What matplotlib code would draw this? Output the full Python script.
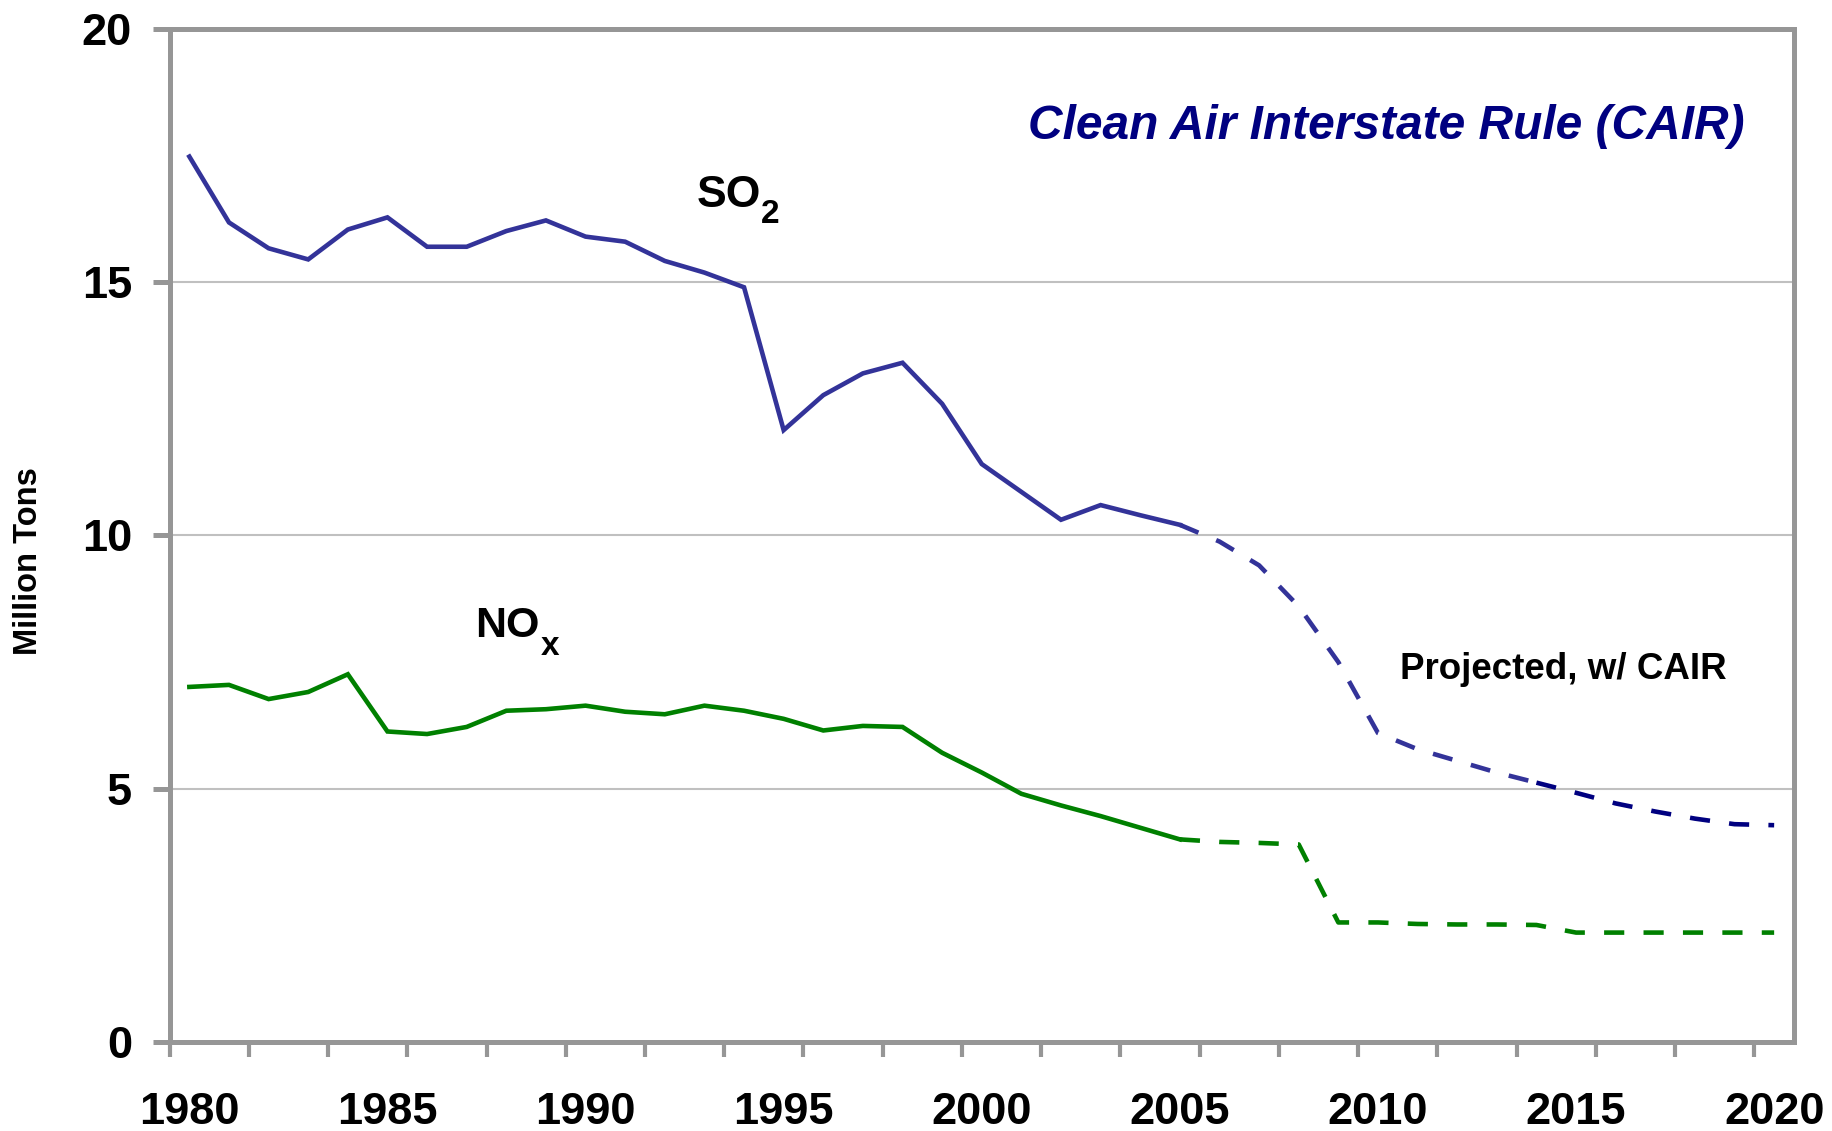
import matplotlib
matplotlib.use("Agg")
import matplotlib.pyplot as plt
from matplotlib.ticker import FixedLocator, NullFormatter, FixedFormatter

plt.rcParams['font.family'] = ['Liberation Sans', 'DejaVu Sans']

# ---------------- data ----------------
years_hist = list(range(1980, 2006))
so2_hist = [17.48, 16.18, 15.67, 15.45, 16.04, 16.28, 15.70, 15.70, 16.01, 16.22,
            15.90, 15.80, 15.42, 15.19, 14.90, 12.08, 12.77, 13.20, 13.41, 12.60,
            11.41, 10.86, 10.31, 10.60, 10.40, 10.21]
nox_hist = [7.01, 7.05, 6.77, 6.91, 7.26, 6.13, 6.08, 6.22, 6.54, 6.57,
            6.64, 6.52, 6.47, 6.64, 6.54, 6.38, 6.15, 6.24, 6.22, 5.71,
            5.32, 4.90, 4.67, 4.46, 4.23, 4.00]

years_proj = list(range(2005, 2021))
so2_proj = [10.21, 9.88, 9.41, 8.60, 7.50, 6.10, 5.78, 5.55, 5.32, 5.12,
            4.92, 4.71, 4.55, 4.41, 4.30, 4.28]
nox_proj = [4.00, 3.95, 3.93, 3.90, 2.36, 2.36, 2.33, 2.32, 2.32, 2.31,
            2.16, 2.16, 2.16, 2.16, 2.16, 2.16]

label_years = [1980, 1985, 1990, 1995, 2000, 2005, 2010, 2015, 2020]
tick_years = list(range(1980, 2021, 2))
y_ticks = [0, 5, 10, 15, 20]

# ---------------- style ----------------
so2_color = '#333399'
so2_dark = '#000080'
nox_color = '#008000'
axis_gray = '#969696'
grid_gray = '#c0c0c0'
LW = 3.3

fig = plt.figure(figsize=(18.33, 11.31), dpi=100)
ax = fig.add_axes([0.0925, 0.0787, 0.8862, 0.8957])

# category-style x: each year occupies [year, year+1], point at centre
xh = [y + 0.5 for y in years_hist]
xp = [y + 0.5 for y in years_proj]
split = years_proj.index(2014)

ax.plot(xh, so2_hist, color=so2_color, lw=LW, solid_joinstyle='miter', zorder=3)
ax.plot(xh, nox_hist, color=nox_color, lw=LW, solid_joinstyle='miter', zorder=3)
dash = (0, (4.4, 4.2))
ax.plot(xp[:split + 1], so2_proj[:split + 1], color=so2_color, lw=LW,
        linestyle=dash, dash_capstyle='butt', zorder=3)
ax.plot(xp[split:], so2_proj[split:], color=so2_dark, lw=LW,
        linestyle=dash, dash_capstyle='butt', zorder=3)
ax.plot(xp, nox_proj, color=nox_color, lw=LW, linestyle=dash,
        dash_capstyle='butt', zorder=3)

ax.set_xlim(1980, 2021)
ax.set_ylim(0, 20)

# grid
ax.set_yticks(y_ticks)
ax.yaxis.grid(True, color=grid_gray, lw=1.5, zorder=0)
ax.set_axisbelow(True)

for s in ax.spines.values():
    s.set_color(axis_gray)
    s.set_linewidth(3.6)

ax.xaxis.set_major_locator(FixedLocator(tick_years))
ax.xaxis.set_major_formatter(NullFormatter())
ax.xaxis.set_minor_locator(FixedLocator([y + 0.5 for y in label_years]))
ax.xaxis.set_minor_formatter(FixedFormatter([str(y) for y in label_years]))
ax.tick_params(axis='x', which='major', direction='out', length=11, width=3,
               color=axis_gray)
ax.tick_params(axis='x', which='minor', length=0, pad=36, labelsize=32.5)
ax.tick_params(axis='y', which='major', direction='out', length=12, width=3.6,
               color=axis_gray, pad=15, labelsize=32.5)
for lab in ax.get_xticklabels(minor=True) + ax.get_yticklabels():
    lab.set_fontweight('bold')

# texts
ax.text(2019.76, 17.83, 'Clean Air Interstate Rule (CAIR)', ha='right',
        va='baseline', fontsize=34.5, fontweight='bold', fontstyle='italic',
        color='#000080')

# SO2 label with subscript
ax.text(1993.30, 16.49, 'SO', ha='left', va='baseline', fontsize=32,
        fontweight='bold', color='black')
ax.annotate('2', xy=(1993.30, 16.49), xytext=(46.5, -11.5),
            textcoords='offset points', ha='left', va='baseline',
            fontsize=24, fontweight='bold', color='black')
# NOx label with subscript
ax.text(1987.71, 8.0, 'NO', ha='left', va='baseline', fontsize=31,
        fontweight='bold', color='black')
ax.annotate('x', xy=(1987.71, 8.0), xytext=(47, -13),
            textcoords='offset points', ha='left', va='baseline',
            fontsize=24, fontweight='bold', color='black')

ax.text(2011.05, 7.17, 'Projected, w/ CAIR', ha='left', va='baseline',
        fontsize=26.5, fontweight='bold', color='black')

fig.text(29 / 1833, 1 - 561 / 1131, 'Million Tons', rotation=90, ha='center',
         va='center', fontsize=23.5, fontweight='bold')

fig.savefig('out.png', dpi=100)
